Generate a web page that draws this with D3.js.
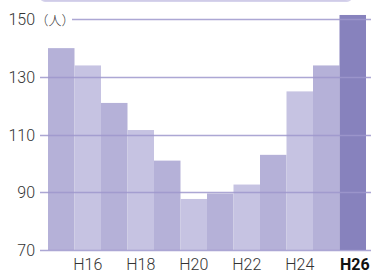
<!DOCTYPE html>
<html>
<head>
<meta charset="utf-8">
<script src="https://cdn.jsdelivr.net/npm/d3@7"></script>
<style>
  body { margin: 0; background: #fff; }
  svg { display: block; }
</style>
</head>
<body>
<div id="chart"></div>
<script>
// Data
var years = ["H15", "H16", "H17", "H18", "H19", "H20", "H21", "H22", "H23", "H24", "H25", "H26"];
var values = [140, 134, 121, 111.6, 101, 87.7, 89.6, 92.7, 103, 125, 134, 151.5];
var yTicks = [70, 90, 110, 130, 150];
var xLabels = ["H16", "H18", "H20", "H22", "H24", "H26"];

var width = 371, height = 273;

var svg = d3.select("#chart")
    .append("svg")
    .attr("width", width)
    .attr("height", height);

var x = d3.scaleBand()
    .domain(years)
    .range([48, 366])
    .padding(0);

var y = d3.scaleLinear()
    .domain([70, 150])
    .range([250, 19.3]);

// Top box edge (cut off by the picture)
svg.append("rect")
    .attr("x", 40)
    .attr("y", -10)
    .attr("width", 312)
    .attr("height", 12)
    .attr("rx", 5)
    .style("fill", "#d6d3ec");
svg.append("rect")
    .attr("x", 40)
    .attr("y", -10)
    .attr("width", 310)
    .attr("height", 10.5)
    .attr("rx", 5)
    .style("fill", "#c9c5e4");

// Bars
svg.selectAll(".bar")
    .data(values)
    .enter()
    .append("rect")
    .attr("class", "bar")
    .attr("x", function(d, i) { return x(years[i]); })
    .attr("width", x.bandwidth())
    .attr("y", function(d) { return y(d); })
    .attr("height", function(d) { return y(70) - y(d); })
    .style("fill", function(d, i) {
        if (i == years.length - 1) return "#8782bd";
        return i % 2 == 0 ? "#b5b1d8" : "#c6c3e2";
    });

// Gridlines on top of the bars
svg.selectAll(".grid")
    .data(yTicks)
    .enter()
    .append("line")
    .attr("class", "grid")
    .attr("x1", function(d) { return d == 150 ? 72 : 40; })
    .attr("x2", width)
    .attr("y1", function(d) { return Math.round(y(d)) + 0.5; })
    .attr("y2", function(d) { return Math.round(y(d)) + 0.5; })
    .style("stroke", "#9d98cc")
    .style("stroke-opacity", 0.85)
    .style("stroke-width", 1.3);

// Y tick labels
svg.selectAll(".ytick")
    .data(yTicks)
    .enter()
    .append("text")
    .attr("class", "ytick")
    .attr("x", 35)
    .attr("y", function(d) { return y(d) + 6; })
    .style("text-anchor", "end")
    .style("font-family", "Roboto, 'Liberation Sans', sans-serif")
    .style("font-weight", 300)
    .style("font-size", "16px")
    .style("fill", "#333")
    .text(function(d) { return d; });

// Unit
svg.append("text")
    .attr("x", 35.5)
    .attr("y", y(150) + 5.5)
    .style("font-family", "'Noto Sans CJK JP', sans-serif")
    .style("font-weight", 300)
    .style("font-size", "13px")
    .style("fill", "#333")
    .text("（人）");

// X labels
svg.selectAll(".xtick")
    .data(xLabels)
    .enter()
    .append("text")
    .attr("class", "xtick")
    .attr("x", function(d) { return x(d) + x.bandwidth() / 2 + (d == "H26" ? 2 : 0); })
    .attr("y", 270)
    .style("text-anchor", "middle")
    .style("font-family", "Roboto, 'Liberation Sans', sans-serif")
    .style("font-weight", function(d) { return d == "H26" ? 700 : 300; })
    .style("font-size", "16px")
    .style("fill", function(d) { return d == "H26" ? "#111" : "#333"; })
    .text(function(d) { return d; });
</script>
</body>
</html>
